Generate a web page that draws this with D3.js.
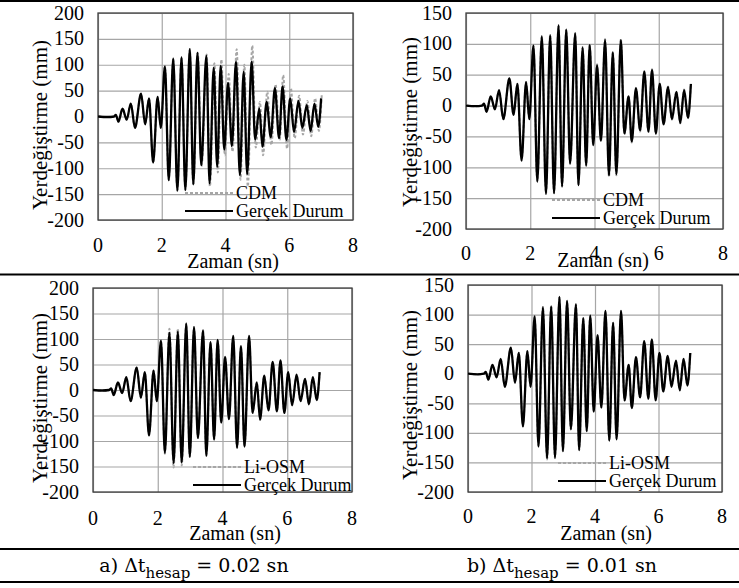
<!DOCTYPE html>
<html>
<head>
<meta charset="utf-8">
<script src="https://cdn.jsdelivr.net/npm/d3@7"></script>
<style>
  body { margin: 0; background: #fff; }
  svg { display: block; }
</style>
</head>
<body>
<svg id="chart" width="739" height="588"></svg>
<script>
const timeActual = [0, 0.3, 0.5, 0.56, 0.64, 0.77, 0.9, 1.03, 1.16, 1.35, 1.48, 1.6, 1.73, 1.87, 1.97,
  2.1, 2.22, 2.36, 2.49, 2.62, 2.74, 2.88, 2.99, 3.12, 3.24, 3.4, 3.5, 3.63, 3.74, 3.85, 3.96,
  4.08, 4.2, 4.33, 4.45, 4.57, 4.68, 4.82, 4.93, 5.06, 5.16, 5.29, 5.42, 5.55, 5.68, 5.79, 5.91,
  6.03, 6.15, 6.29, 6.41, 6.55, 6.67, 6.79, 6.91, 7.0];
const dispActual = [0, -1, 0, 3, -10, 15, -6, 25, -22, 44, -15, 35, -89, 38, -22,
  97, -123, 112, -143, 114, -142, 130, -131, 123, -94, 117, -129, 94, -97, 98, -64,
  65, -57, 106, -113, 86, -111, 106, -45, 15, -58, 28, -40, 55, -42, 58, -45,
  35, -30, 30, -22, 22, -28, 25, -20, 35];

// CDM, dt = 0.02 s
const timeCdm02 = [0, 0.3, 0.5, 0.56, 0.64, 0.77, 0.9, 1.03, 1.16, 1.35, 1.48, 1.6, 1.73, 1.87, 1.97,
  2.1, 2.22, 2.36, 2.49, 2.62, 2.74, 2.88, 2.99, 3.13, 3.25, 3.41, 3.51, 3.65, 3.76, 3.87, 3.98,
  4.1, 4.22, 4.35, 4.47, 4.59, 4.7, 4.84, 4.95, 5.08, 5.18, 5.31, 5.44, 5.57, 5.7, 5.81, 5.93,
  6.05, 6.17, 6.31, 6.43, 6.57, 6.69, 6.81, 6.93, 7.02];
const dispCdm02 = [0, -1, 0, 3, -10, 15, -6, 25, -22, 44, -15, 35, -89, 38, -22,
  97, -123, 112, -143, 114, -142, 130, -133, 123, -96, 120, -135, 103, -108, 110, -75,
  82, -68, 130, -122, 100, -135, 137, -60, 28, -75, 48, -55, 62, -45, 80, -62,
  55, -42, 40, -35, 30, -38, 35, -28, 42];

// CDM, dt = 0.01 s
const dispCdm01 = [0, -1, 0, 3, -10, 15, -6, 25, -22, 44, -15, 35, -89, 38, -22,
  97, -123, 112, -143, 114, -142, 130, -131, 123, -94, 117, -129, 95, -98, 99, -65,
  67, -58, 108, -115, 87, -113, 108, -47, 16, -60, 29, -42, 56, -43, 59, -46,
  36, -31, 31, -23, 23, -29, 26, -21, 36];

// Li-OSM, dt = 0.02 s
const dispOsm02 = [0, -1, 0, 3, -10, 15, -6, 25, -22, 44, -15, 35, -89, 38, -22,
  97, -125, 120, -152, 120, -148, 130, -131, 123, -94, 117, -129, 94, -97, 98, -64,
  65, -57, 106, -113, 86, -111, 106, -45, 15, -58, 28, -40, 55, -42, 58, -45,
  35, -30, 30, -22, 22, -28, 25, -20, 35];

// Li-OSM, dt = 0.01 s
const dispOsm01 = [0, -1, 0, 3, -10, 15, -6, 25, -22, 44, -15, 35, -89, 38, -22,
  97, -123, 113, -145, 115, -143, 130, -131, 123, -94, 117, -129, 94, -97, 98, -64,
  65, -57, 106, -113, 86, -111, 106, -45, 15, -58, 28, -40, 55, -42, 58, -45,
  35, -30, 30, -22, 22, -28, 25, -20, 35];

const xTicks = [0, 2, 4, 6, 8];
const yTicks200 = [-200, -150, -100, -50, 0, 50, 100, 150, 200];
const yTicks150 = [-200, -150, -100, -50, 0, 50, 100, 150];
const captions = [
  {label: "a) ", dt: "0.02"},
  {label: "b) ", dt: "0.01"}
];

const svg = d3.select("#chart");
const serif = "Liberation Serif, Tinos, Nimbus Roman, DejaVu Serif";

// table rules
[1, 274.5, 549, 582].forEach(y => {
  svg.append("line")
    .attr("x1", 0).attr("x2", 739)
    .attr("y1", y).attr("y2", y)
    .attr("stroke", "#000")
    .attr("stroke-width", 2);
});

function drawPanel(p) {
  const x = d3.scaleLinear().domain([0, 8]).range([p.left, p.right]);
  const y = d3.scaleLinear().domain([-200, p.yMax]).range([p.bottom, p.top]);
  const yTicks = p.yMax === 200 ? yTicks200 : yTicks150;

  const g = svg.append("g").attr("font-family", serif);

  // grid
  g.append("g")
    .attr("transform", "translate(0," + p.bottom + ")")
    .call(d3.axisBottom(x).tickValues(xTicks).tickSize(-(p.bottom - p.top)).tickFormat(""))
    .call(a => a.select(".domain").remove())
    .call(a => a.selectAll("line").attr("stroke", "#a6a6a6").attr("stroke-width", 1.2));
  g.append("g")
    .attr("transform", "translate(" + p.left + ",0)")
    .call(d3.axisLeft(y).tickValues(yTicks).tickSize(-(p.right - p.left)).tickFormat(""))
    .call(a => a.select(".domain").remove())
    .call(a => a.selectAll("line").attr("stroke", "#a6a6a6").attr("stroke-width", 1.2));

  // tick labels
  g.selectAll(".xt").data(xTicks).join("text")
    .attr("x", d => x(d))
    .attr("y", p.xTickY)
    .attr("text-anchor", "middle")
    .attr("font-size", 20)
    .text(d => d);
  g.selectAll(".yt").data(yTicks).join("text")
    .attr("x", p.left - 14)
    .attr("y", d => y(d) + 6.5)
    .attr("text-anchor", "end")
    .attr("font-size", 20)
    .text(d => String(d));

  // plot border
  g.append("rect")
    .attr("x", p.left).attr("y", p.top)
    .attr("width", p.right - p.left).attr("height", p.bottom - p.top)
    .attr("fill", "none")
    .attr("stroke", "#404040")
    .attr("stroke-width", 1.3);

  // axis titles
  g.append("text")
    .attr("transform", "translate(" + p.yTitleX + "," + p.yTitleY + ") rotate(-90)")
    .attr("text-anchor", "middle")
    .attr("font-size", 21)
    .text("Yerdeğiştirme (mm)");
  g.append("text")
    .attr("x", p.xTitleX)
    .attr("y", p.xTitleY)
    .attr("text-anchor", "middle")
    .attr("font-size", 20)
    .text("Zaman (sn)");

  const line = d3.line()
    .x(d => x(d[0]))
    .y(d => y(d[1]))
    .curve(d3.curveMonotoneX);

  // method (dashed grey)
  g.append("path")
    .datum(p.time.map((t, i) => [t, p.disp[i]]))
    .attr("fill", "none")
    .attr("stroke", "#a6a6a6")
    .attr("stroke-width", 2)
    .attr("stroke-dasharray", "3,2")
    .attr("d", line);

  // actual (black)
  g.append("path")
    .datum(timeActual.map((t, i) => [t, dispActual[i]]))
    .attr("fill", "none")
    .attr("stroke", "#000")
    .attr("stroke-width", 2.3)
    .attr("d", line);

  // legend
  const lg = g.append("g").attr("transform", "translate(" + p.legX + "," + p.legY + ")");
  lg.append("line").attr("x1", 0).attr("x2", 48).attr("y1", 0).attr("y2", 0)
    .attr("stroke", "#a6a6a6").attr("stroke-width", 2).attr("stroke-dasharray", "3,2");
  lg.append("text").attr("x", 51).attr("y", 6)
    .attr("font-size", 18).text(p.method);
  lg.append("line").attr("x1", 0).attr("x2", 48).attr("y1", 18).attr("y2", 18)
    .attr("stroke", "#000").attr("stroke-width", 2);
  lg.append("text").attr("x", 51).attr("y", 24)
    .attr("font-size", 18).text("Gerçek Durum");
}

drawPanel({left: 98, right: 353, top: 13, bottom: 220, yMax: 200,
  xTickY: 252, xTitleX: 233, xTitleY: 268, yTitleX: 47, yTitleY: 125,
  legX: 185, legY: 193, method: "CDM", time: timeCdm02, disp: dispCdm02});
drawPanel({left: 466, right: 723, top: 13, bottom: 229, yMax: 150,
  xTickY: 260, xTitleX: 603, xTitleY: 267, yTitleX: 417, yTitleY: 122,
  legX: 552, legY: 200, method: "CDM", time: timeActual, disp: dispCdm01});
drawPanel({left: 93, right: 352, top: 288, bottom: 492, yMax: 200,
  xTickY: 525, xTitleX: 235, xTitleY: 540, yTitleX: 47, yTitleY: 398,
  legX: 193, legY: 467, method: "Li-OSM", time: timeActual, disp: dispOsm02});
drawPanel({left: 468, right: 722, top: 285, bottom: 492, yMax: 150,
  xTickY: 523, xTitleX: 606, xTitleY: 540, yTitleX: 417, yTitleY: 395,
  legX: 558, legY: 463, method: "Li-OSM", time: timeActual, disp: dispOsm01});

// captions
const capX = [194, 562];
captions.forEach((c, i) => {
  const t = svg.append("text")
    .attr("x", capX[i])
    .attr("y", 572)
    .attr("text-anchor", "middle")
    .attr("font-family", "DejaVu Serif")
    .attr("font-size", 19);
  t.append("tspan").text(c.label + "Δt");
  t.append("tspan").attr("dy", 6).attr("font-size", 15).text("hesap");
  t.append("tspan").attr("dy", -6).text(" = " + c.dt + " sn");
});
</script>
</body>
</html>
